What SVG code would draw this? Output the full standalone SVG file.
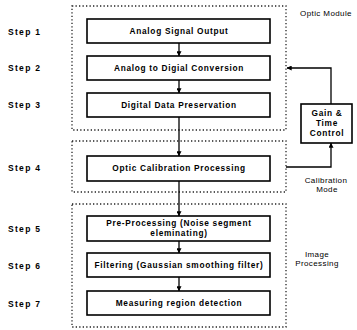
<svg xmlns="http://www.w3.org/2000/svg" width="357" height="330" viewBox="0 0 357 330">
<defs>
<style>
.bg{fill:#fff}
.box{fill:#fff;stroke:#000;stroke-width:1.6}
.dot{fill:none;stroke:#222;stroke-width:1.3;stroke-dasharray:1.3 2.2}
.t{font-family:"Liberation Sans",Arial,sans-serif;font-weight:bold;font-size:8.3px;letter-spacing:0.7px;fill:#000;text-anchor:middle}
.s{font-family:"Liberation Sans",Arial,sans-serif;font-weight:bold;font-size:8.5px;letter-spacing:1.3px;fill:#000}
.r{font-family:"Liberation Sans",Arial,sans-serif;font-size:8px;letter-spacing:0.4px;fill:#000;text-anchor:middle}
.c{fill:none;stroke:#000;stroke-width:1.3}
</style>
<marker id="ah" viewBox="0 0 8 8" refX="7.5" refY="4" markerWidth="5" markerHeight="5" orient="auto" markerUnits="userSpaceOnUse">
<path d="M0,0 L8,4 L0,8 z" fill="#000"/>
</marker>
</defs>
<rect class="bg" x="0" y="0" width="357" height="330"/>
<g id="modules">
<rect class="dot" x="72" y="6" width="214" height="124"/>
<rect class="dot" x="72" y="141" width="214" height="51"/>
<rect class="dot" x="72" y="204" width="214" height="123"/>
</g>
<g id="steps">
<text class="s" x="8" y="35">Step 1</text>
<text class="s" x="8" y="71">Step 2</text>
<text class="s" x="8" y="108">Step 3</text>
<text class="s" x="8" y="171">Step 4</text>
<text class="s" x="8" y="232">Step 5</text>
<text class="s" x="8" y="269">Step 6</text>
<text class="s" x="8" y="307">Step 7</text>
</g>
<g id="labels">
<text class="r" x="326" y="16">Optic Module</text>
<text class="r" x="326" y="183">Calibration</text>
<text class="r" x="327" y="192">Mode</text>
<text class="r" x="317" y="257">Image</text>
<text class="r" x="317" y="266">Processing</text>
</g>
<g id="n1"><rect class="box" x="87" y="19" width="183" height="24"/><text class="t" x="179" y="34">Analog Signal Output</text></g>
<g id="n2"><rect class="box" x="87" y="56" width="183" height="24"/><text class="t" x="179" y="71">Analog to Digial Conversion</text></g>
<g id="n3"><rect class="box" x="87" y="93" width="183" height="24"/><text class="t" x="179" y="108">Digital Data Preservation</text></g>
<g id="n4"><rect class="box" x="87" y="156" width="183" height="25"/><text class="t" x="179" y="171">Optic Calibration Processing</text></g>
<g id="n5"><rect class="box" x="87" y="216" width="183" height="25"/><text class="t" x="179" y="226">Pre-Processing (Noise segment</text><text class="t" x="179" y="236">eleminating)</text></g>
<g id="n6"><rect class="box" x="87" y="253" width="183" height="24"/><text class="t" x="179" y="268">Filtering (Gaussian smoothing filter)</text></g>
<g id="n7"><rect class="box" x="87" y="291" width="183" height="24"/><text class="t" x="179" y="306">Measuring region detection</text></g>
<g id="gain"><rect class="box" x="301" y="104" width="51" height="39"/><text class="t" x="327" y="116">Gain &amp;</text><text class="t" x="327" y="126">Time</text><text class="t" x="327" y="136">Control</text></g>
<g id="connectors">
<line class="c" x1="179" y1="43" x2="179" y2="56" marker-end="url(#ah)"/>
<line class="c" x1="179" y1="80" x2="179" y2="93" marker-end="url(#ah)"/>
<line class="c" x1="179" y1="117" x2="179" y2="156" marker-end="url(#ah)"/>
<line class="c" x1="179" y1="181" x2="179" y2="216" marker-end="url(#ah)"/>
<line class="c" x1="179" y1="241" x2="179" y2="253" marker-end="url(#ah)"/>
<line class="c" x1="179" y1="277" x2="179" y2="291" marker-end="url(#ah)"/>
<polyline class="c" points="286,167 331,167 331,143" marker-end="url(#ah)"/>
<polyline class="c" points="331,104 331,68 287,68" marker-end="url(#ah)"/>
</g>
</svg>
